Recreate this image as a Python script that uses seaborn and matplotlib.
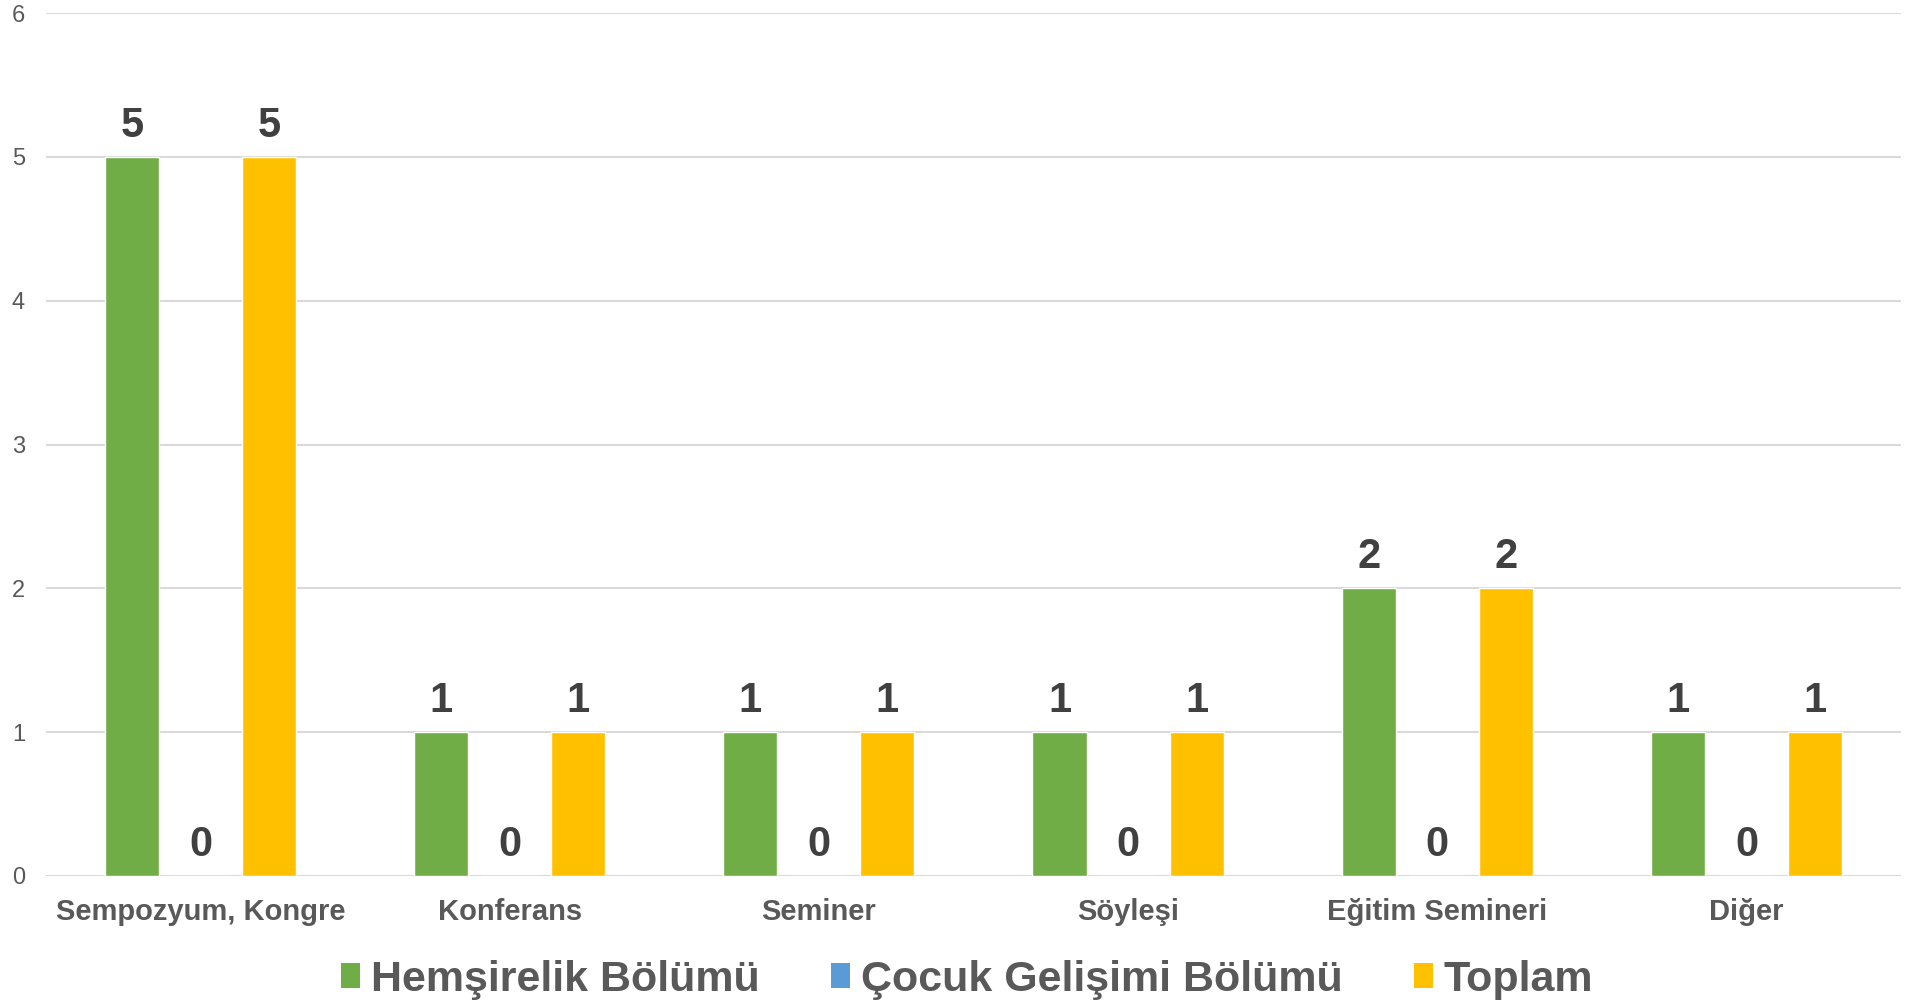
import matplotlib
matplotlib.use("Agg")
import matplotlib.pyplot as plt
from matplotlib.patches import Patch
import seaborn as sns
import pandas as pd

categories = ["Sempozyum, Kongre", "Konferans", "Seminer", "Söyleşi", "Eğitim Semineri", "Diğer"]
series_names = ["Hemşirelik Bölümü", "Çocuk Gelişimi Bölümü", "Toplam"]
hemsirelik = [5, 1, 1, 1, 2, 1]
cocuk_gelisimi = [0, 0, 0, 0, 0, 0]
toplam = [5, 1, 1, 1, 2, 1]
y_ticks = [0, 1, 2, 3, 4, 5, 6]

colors = ["#70AD47", "#5B9BD5", "#FFC000"]

rows = []
for name, vals in zip(series_names, [hemsirelik, cocuk_gelisimi, toplam]):
    for cat, v in zip(categories, vals):
        rows.append({"Kategori": cat, "Seri": name, "Değer": v})
df = pd.DataFrame(rows)

sns.set_style("white")
plt.rcParams["font.family"] = ["Liberation Sans", "DejaVu Sans"]

fig = plt.figure(figsize=(19.11, 10), dpi=100)
ax = fig.add_axes([0.024, 0.124, 0.9708, 0.863])

sns.barplot(data=df, x="Kategori", y="Değer", hue="Seri", order=categories,
            hue_order=series_names, palette=colors, width=0.665, gap=0.21,
            saturation=1, errorbar=None, legend=False, ax=ax)

ax.set_ylim(0, 6)
ax.set_xlim(-0.5, len(categories) - 0.5)
ax.set_yticks(y_ticks)
ax.set_yticklabels([str(t) for t in y_ticks], fontsize=17, color="#595959")
ax.yaxis.grid(True, color="#d9d9d9", linewidth=1.5)
ax.set_axisbelow(True)
for s in ["top", "right", "left", "bottom"]:
    ax.spines[s].set_visible(False)
ax.tick_params(axis="y", length=0, pad=15)
ax.tick_params(axis="x", length=0, pad=16)
for lbl in ax.get_xticklabels():
    lbl.set_fontsize(21)
    lbl.set_fontweight("bold")
    lbl.set_color("#595959")
ax.set_xlabel("")
ax.set_ylabel("")

for cont in ax.containers:
    ax.bar_label(cont, labels=[f"{int(v)}" for v in cont.datavalues], padding=8,
                 fontsize=30, fontweight="bold", color="#404040")

handles = [Patch(facecolor=c, edgecolor="none") for c in colors]
leg = fig.legend(handles, series_names, loc="center", bbox_to_anchor=(0.506, 0.02),
                 ncol=3, frameon=False, handlelength=0.45, handleheight=0.5,
                 handletextpad=0.25, columnspacing=1.65,
                 prop={"size": 31, "weight": "bold"})
for t in leg.get_texts():
    t.set_color("#595959")

fig.savefig("out.png", dpi=100, facecolor="white")
